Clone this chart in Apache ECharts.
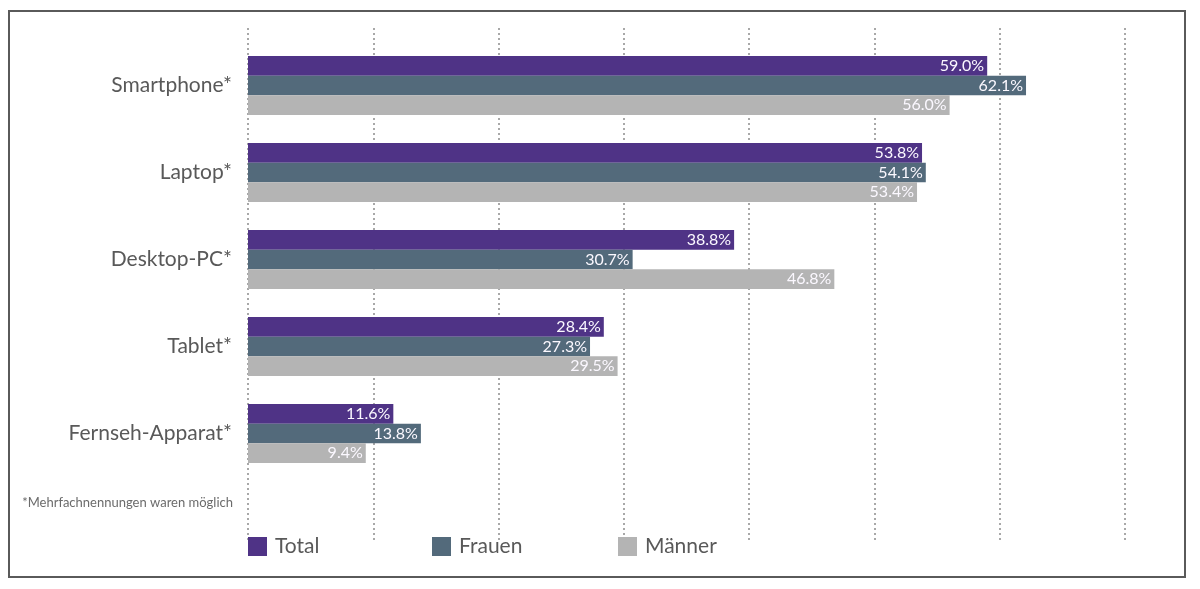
<!DOCTYPE html>
<html>
<head>
<meta charset="utf-8">
<script src="https://cdn.jsdelivr.net/npm/echarts@6/dist/echarts.min.js"></script>
<style>
  html, body { margin: 0; padding: 0; background: #fff; }
  #chart { width: 1200px; height: 589px; }
</style>
</head>
<body>
<div id="chart"></div>
<script>
// Geräte-Kategorien
var categories = ['Smartphone*', 'Laptop*', 'Desktop-PC*', 'Tablet*', 'Fernseh-Apparat*'];
// Werte in Prozent
var total = [59.0, 53.8, 38.8, 28.4, 11.6];
var frauen = [62.1, 54.1, 30.7, 27.3, 13.8];
var maenner = [56.0, 53.4, 46.8, 29.5, 9.4];
var seriesNames = ['Total', 'Frauen', 'Männer'];
var colors = ['#4f3386', '#536a7b', '#b4b4b4'];

var fontName = 'Lato, "Open Sans", sans-serif';

var myChart = echarts.init(document.getElementById('chart'));

function barSeries(name, data, color) {
    return {
        name: name,
        type: 'bar',
        xAxisIndex: 0,
        yAxisIndex: 0,
        data: data,
        barGap: '0%',
        barCategoryGap: '32%',
        itemStyle: { color: color },
        label: {
            show: true,
            position: 'insideRight',
            distance: 3,
            color: '#fbf8ff',
            fontFamily: fontName,
            fontSize: 16,
            formatter: function (p) { return p.value.toFixed(1) + '%'; }
        }
    };
}

function legendItem(i, left) {
    return {
        data: [seriesNames[i]],
        left: left,
        top: 536,
        padding: 0,
        itemWidth: 19,
        itemHeight: 19,
        itemGap: 8,
        icon: 'rect',
        selectedMode: false,
        textStyle: { color: '#595959', fontSize: 21, fontFamily: fontName, padding: [0, 0, 0, 3] }
    };
}

var option = {
    animation: false,
    // 外框
    graphic: [
        {
            type: 'rect',
            shape: { x: 9, y: 11, width: 1176, height: 566 },
            style: { fill: 'none', stroke: '#5a5a5a', lineWidth: 2 }
        },
        {
            type: 'text',
            right: 1200 - 233,
            top: 496,
            style: {
                text: '*Mehrfachnennungen waren möglich',
                fill: '#6b6b6b',
                fontSize: 13,
                fontFamily: fontName
            }
        }
    ],
    legend: [legendItem(0, 248), legendItem(1, 432), legendItem(2, 618)],
    grid: [
        { left: 248, right: 75, top: 42, height: 435 },
        { left: 248, right: 75, top: 28, bottom: 49 }
    ],
    xAxis: [
        {
            gridIndex: 0,
            type: 'value',
            min: 0,
            max: 70,
            interval: 10,
            axisLine: { show: false },
            axisTick: { show: false },
            axisLabel: { show: false },
            splitLine: { show: false }
        },
        {
            gridIndex: 1,
            type: 'value',
            min: 0,
            max: 70,
            interval: 10,
            axisLine: { show: false },
            axisTick: { show: false },
            axisLabel: { show: false },
            splitLine: { show: true, lineStyle: { color: '#8c8c8c', type: [2, 3], width: 1.5 } }
        }
    ],
    yAxis: [
        {
            gridIndex: 0,
            type: 'category',
            data: categories,
            inverse: true,
            axisLine: { show: false },
            axisTick: { show: false },
            splitLine: { show: false },
            axisLabel: {
                margin: 16,
                color: '#595959',
                fontSize: 21,
                fontFamily: fontName
            }
        },
        {
            gridIndex: 1,
            type: 'value',
            show: false
        }
    ],
    series: [
        barSeries(seriesNames[0], total, colors[0]),
        barSeries(seriesNames[1], frauen, colors[1]),
        barSeries(seriesNames[2], maenner, colors[2])
    ]
};
myChart.setOption(option);
</script>
</body>
</html>
